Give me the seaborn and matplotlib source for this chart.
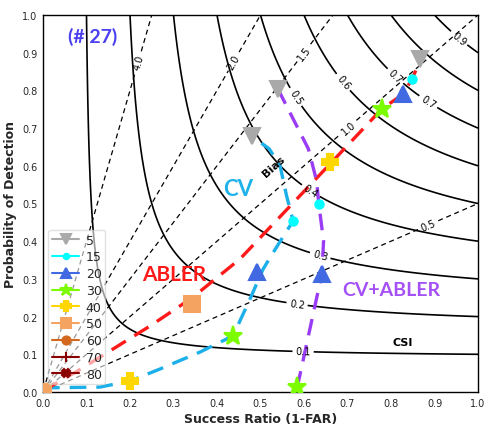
import numpy as np
import matplotlib
matplotlib.use("Agg")
import matplotlib.pyplot as plt
import seaborn as sns
import pandas as pd

sns.set_style("white")
plt.rcParams["font.family"] = ["DejaVu Sans"]

# ---------------- data ----------------
# dashed performance curves (success ratio, POD)
cv_sr = [0.0, 0.131, 0.2, 0.269, 0.361, 0.437, 0.476, 0.506, 0.54, 0.575, 0.56, 0.545, 0.52, 0.48]
cv_pod = [0.011, 0.013, 0.029, 0.061, 0.106, 0.149, 0.247, 0.326, 0.39, 0.454, 0.52, 0.60, 0.645, 0.679]
abler_sr = [0.0, 0.08, 0.246, 0.343, 0.453, 0.66, 0.779, 0.828, 0.848, 0.867]
abler_pod = [0.003, 0.056, 0.175, 0.25, 0.353, 0.605, 0.751, 0.79, 0.83, 0.878]
cvab_sr = [0.54, 0.61, 0.629, 0.634, 0.645, 0.641, 0.584]
cvab_pod = [0.804, 0.645, 0.56, 0.499, 0.4, 0.313, 0.01]

# threshold markers
thresholds = ["5", "15", "20", "30", "40", "50", "60", "70", "80"]
mk_styles = ["v", ".", "^", "*", "P", "s", "o", "+", "X"]
mk_colors = ["darkgray", "cyan", "royalblue", "lawngreen", "gold", "sandybrown",
             "chocolate", "darkred", "darkred"]
mk_sizes = [11, 12, 12, 14, 12, 12, 9, 11, 9]
nan = np.nan
cv_mk_sr = [0.48, 0.575, 0.492, 0.437, 0.2, 0.0, nan, nan, nan]
cv_mk_pod = [0.679, 0.454, 0.318, 0.149, 0.029, 0.0, nan, nan, nan]
abler_mk_sr = [0.867, 0.848, 0.828, 0.779, 0.66, 0.343, nan, nan, nan]
abler_mk_pod = [0.883, 0.83, 0.79, 0.751, 0.61, 0.233, nan, nan, nan]
cvab_mk_sr = [0.54, 0.634, 0.641, 0.584, nan, nan, nan, nan, nan]
cvab_mk_pod = [0.804, 0.499, 0.313, 0.013, nan, nan, nan, nan, nan]

csi_levels = [0.1, 0.2, 0.3, 0.4, 0.5, 0.6, 0.7, 0.8, 0.9]
bias_levels = [0.5, 1.0, 1.5, 2.0, 4.0]
csi_label_pos = [(0.598, 0.109), (0.584, 0.233), (0.637, 0.361), (0.618, 0.538),
                 (0.584, 0.785), (0.699, 0.83), (0.814, 0.843), (0.885, 0.769), (0.959, 0.942)]
bias_label_pos = [(0.885, 0.446), (0.699, 0.706), (0.598, 0.902), (0.437, 0.878), (0.218, 0.877)]

ticks = [0.0, 0.1, 0.2, 0.3, 0.4, 0.5, 0.6, 0.7, 0.8, 0.9, 1.0]

# ---------------- figure ----------------
fig = plt.figure(figsize=(4.92, 4.27), dpi=100)
ax = fig.add_axes([43 / 492, 1 - 393 / 427, 435 / 492, 377 / 427])

g = np.linspace(0.001, 1.0, 500)
SR, POD = np.meshgrid(g, g)
CSI = 1.0 / (1.0 / SR + 1.0 / POD - 1.0)
BIAS = POD / SR

cs = ax.contour(SR, POD, CSI, levels=csi_levels, colors="black", linewidths=1.2)
ax.clabel(cs, inline=True, fontsize=7, fmt="%.1f", manual=csi_label_pos, inline_spacing=3)
cb = ax.contour(SR, POD, BIAS, levels=bias_levels, colors="black", linewidths=0.9,
                linestyles=[(0, (4, 3))])
ax.clabel(cb, inline=True, fontsize=7, fmt="%.1f", manual=bias_label_pos, inline_spacing=3)

dash = (0, (5, 3))
sns.lineplot(x=cv_sr, y=cv_pod, sort=False, estimator=None, color="#1cb0ea",
             lw=2.4, linestyle=dash, ax=ax)
sns.lineplot(x=abler_sr, y=abler_pod, sort=False, estimator=None, color="#ff1a1a",
             lw=2.4, linestyle=dash, ax=ax)
sns.lineplot(x=cvab_sr, y=cvab_pod, sort=False, estimator=None, color="#9b3cf5",
             lw=2.4, linestyle=dash, ax=ax)

handles = []
for i, lab in enumerate(thresholds):
    first = None
    for xs, ys in [(cv_mk_sr, cv_mk_pod), (abler_mk_sr, abler_mk_pod), (cvab_mk_sr, cvab_mk_pod)]:
        h, = ax.plot([xs[i]], [ys[i]], marker=mk_styles[i], color=mk_colors[i],
                     ms=mk_sizes[i], ls="-", lw=1.5, mew=1.5, zorder=5)
        if first is None:
            first = h
    first.set_label(lab)
    handles.append(first)

leg = ax.legend(handles=handles, loc="lower left", bbox_to_anchor=(0.012, 0.02),
                borderaxespad=0, fontsize=9, markerscale=0.65, framealpha=0.6,
                edgecolor="#cccccc", labelspacing=0.3, handlelength=2.2,
                borderpad=0.3, handletextpad=0.5)

# annotations
tf = ["Lato", "DejaVu Sans"]
ax.text(0.113, 0.944, "(# 27)", color="#4b40f0", fontsize=14, fontweight="bold",
        ha="center", va="center", family=tf)
ax.text(0.448, 0.541, "CV", color="#1fb2ea", fontsize=16, fontweight="bold",
        ha="center", va="center", family=tf)
ax.text(0.301, 0.313, "ABLER", color="#ff1a1a", fontsize=15, fontweight="bold",
        ha="center", va="center", family=tf)
ax.text(0.80, 0.272, "CV+ABLER", color="#a550f5", fontsize=14, fontweight="bold",
        ha="center", va="center", family=tf)
ax.text(0.828, 0.133, "CSI", color="black", fontsize=8, fontweight="bold",
        ha="center", va="center")
ax.text(0.531, 0.60, "Bias", color="black", fontsize=8, fontweight="bold",
        ha="center", va="center", rotation=42)

ax.set_xlim(0, 1)
ax.set_ylim(0, 1)
ax.set_xticks(ticks)
ax.set_yticks(ticks)
ax.set_xticklabels([f"{t:.1f}" for t in ticks])
ax.set_yticklabels([f"{t:.1f}" for t in ticks])
ax.tick_params(labelsize=7, length=2, pad=2)
ax.set_xlabel("Success Ratio (1-FAR)", fontsize=9, fontweight="bold", labelpad=3)
ax.set_ylabel("Probability of Detection", fontsize=9, fontweight="bold", labelpad=4)
for s in ax.spines.values():
    s.set_color("black")
    s.set_linewidth(1.0)

fig.savefig("out.png", dpi=100)
